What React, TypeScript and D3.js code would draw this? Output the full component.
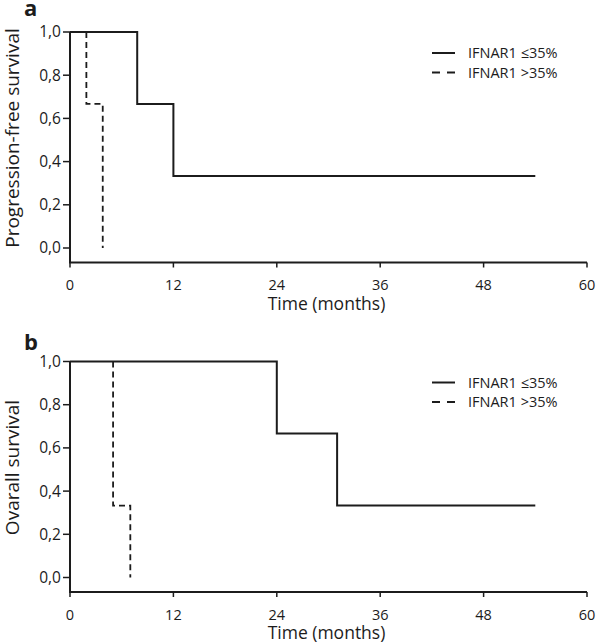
import React from "react";
import * as d3 from "d3";

const xTicks = [0, 12, 24, 36, 48, 60];
const yTicks = [0, 0.2, 0.4, 0.6, 0.8, 1.0];
const seriesNames = ["IFNAR1 \u226435%", "IFNAR1 >35%"];

// Panel a: progression-free survival
const pfsLowTimes = [0, 7.8, 12, 54];
const pfsLowSurv = [1, 0.667, 0.333, 0.333];
const pfsHighTimes = [0, 1.9, 3.8];
const pfsHighSurv = [1, 0.667, 0];

// Panel b: overall survival
const osLowTimes = [0, 24, 31, 54];
const osLowSurv = [1, 0.667, 0.333, 0.333];
const osHighTimes = [0, 5, 7];
const osHighSurv = [1, 0.333, 0];

const W = 597;
const H = 643;
const FONT = "'Open Sans', sans-serif";
const INK = "#1c1c1c";

type PanelProps = {
  top: number;
  letter: string;
  letterY: number;
  yTitle: string;
  low: [number[], number[]];
  high: [number[], number[]];
};

function Panel({ top, letter, letterY, yTitle, low, high }: PanelProps) {
  const x = d3.scaleLinear().domain([0, 60]).range([70, 587]);
  const y = d3.scaleLinear().domain([0, 1]).range([top + 216, top]);
  const axisY = top + 230.5;
  const line = d3
    .line<[number, number]>()
    .x((d) => x(d[0]))
    .y((d) => y(d[1]))
    .curve(d3.curveStepAfter);
  const lowPts = low[0].map((t, i) => [t, low[1][i]] as [number, number]);
  // dashed curve drawn from its first event (its initial plateau is hidden under the solid one)
  const highPts: [number, number][] = [[high[0][1], high[1][0]]].concat(
    high[0].slice(1).map((t, i) => [t, high[1][i + 1]] as [number, number])
  ) as [number, number][];
  const legY = top + 21;
  return (
    <g>
      <text x={24} y={letterY} fontFamily={FONT} fontWeight="bold" fontSize={22} fill={INK}>
        {letter}
      </text>
      {/* axes */}
      <path
        d={`M${x(0)},${y(1)}V${axisY}H${x(60)}`}
        fill="none"
        stroke={INK}
        strokeWidth={2}
      />
      {yTicks.map((t) => (
        <g key={"y" + t}>
          <line x1={x(0) - 7} x2={x(0)} y1={y(t)} y2={y(t)} stroke={INK} strokeWidth={1.5} />
          <text
            x={x(0) - 9}
            y={y(t)}
            dy="0.35em"
            textAnchor="end"
            fontFamily={FONT}
            fontSize={15.5}
            fill={INK}
          >
            {t.toFixed(1).replace(".", ",")}
          </text>
        </g>
      ))}
      {xTicks.map((t) => (
        <g key={"x" + t}>
          <line x1={x(t)} x2={x(t)} y1={axisY} y2={axisY + 5} stroke={INK} strokeWidth={1.5} />
          <text
            x={x(t)}
            y={axisY + 22.5}
            dy="0.35em"
            textAnchor="middle"
            fontFamily={FONT}
            fontSize={14.5}
            fill={INK}
          >
            {t}
          </text>
        </g>
      ))}
      <text
        x={(x(0) + x(60)) / 2 - 2}
        y={axisY + 41}
        dy="0.35em"
        textAnchor="middle"
        fontFamily={FONT}
        fontSize={17.5}
        fill={INK}
      >
        Time (months)
      </text>
      <text
        transform={`translate(12,${top + 106}) rotate(-90)`}
        dy="0.35em"
        textAnchor="middle"
        fontFamily={FONT}
        fontSize={19}
        fill={INK}
      >
        {yTitle}
      </text>
      {/* curves */}
      <path d={line(highPts) || ""} fill="none" stroke={INK} strokeWidth={1.8} strokeDasharray="6,4" />
      <path d={line(lowPts) || ""} fill="none" stroke={INK} strokeWidth={2} />
      {/* legend */}
      <line x1={432} x2={455} y1={legY} y2={legY} stroke={INK} strokeWidth={2} />
      <line x1={432} x2={455} y1={legY + 19.5} y2={legY + 19.5} stroke={INK} strokeWidth={2} strokeDasharray="8,7" />
      <text x={468} y={legY} dy="0.35em" fontFamily={FONT} fontSize={14.5} fill={INK}>
        {seriesNames[0]}
      </text>
      <text x={468} y={legY + 19.5} dy="0.35em" fontFamily={FONT} fontSize={14.5} fill={INK}>
        {seriesNames[1]}
      </text>
    </g>
  );
}

export default function App() {
  return (
    <svg
      width={W}
      height={H}
      style={{ position: "absolute", left: 0, top: 0, background: "#fff" }}
    >
      <Panel
        top={32}
        letter="a"
        letterY={16}
        yTitle="Progression-free survival"
        low={[pfsLowTimes, pfsLowSurv]}
        high={[pfsHighTimes, pfsHighSurv]}
      />
      <Panel
        top={361.5}
        letter="b"
        letterY={350}
        yTitle="Ovarall survival"
        low={[osLowTimes, osLowSurv]}
        high={[osHighTimes, osHighSurv]}
      />
    </svg>
  );
}
